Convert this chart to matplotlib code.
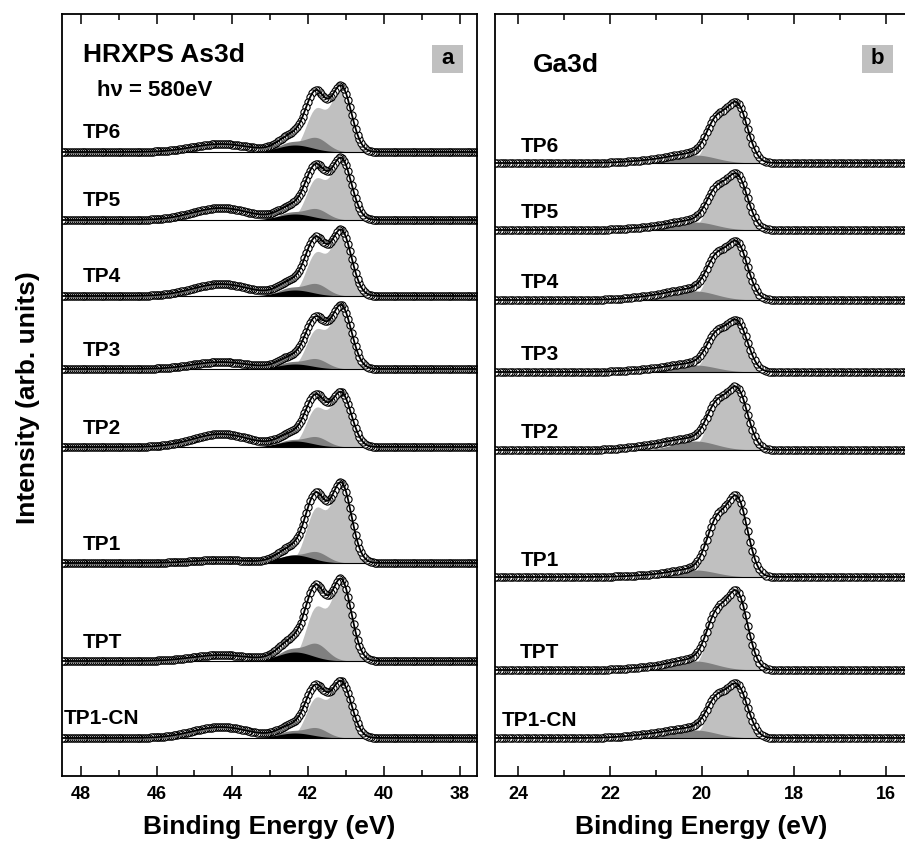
import numpy as np
import matplotlib
matplotlib.use("Agg")
import matplotlib.pyplot as plt
from matplotlib.ticker import MultipleLocator
from matplotlib.patches import Rectangle

plt.rcParams["font.family"] = ["Liberation Sans", "DejaVu Sans"]
plt.rcParams["font.weight"] = "bold"

labels = ["TP6", "TP5", "TP4", "TP3", "TP2", "TP1", "TPT", "TP1-CN"]

# As3d (panel a): fitted peak parameters (heights in px-like arb. units)
as_energy = np.arange(37.5, 48.55, 0.05)
as_main_pos = [41.12, 41.80]
as_main_52 = [64, 60, 64, 62, 53, 78, 79, 55]
as_main_32 = [42, 40, 42, 38, 38, 53, 52, 39]
as_mid_pos = [41.80, 42.49]
as_mid_h = [14, 11, 12, 10, 10, 11, 17, 10]
as_low_pos = 42.35
as_low_h = [7, 6, 6, 5, 6, 8, 9, 5]
as_oxide_pos = 44.3
as_oxide_h = [8, 12, 12, 7, 13, 3, 6, 11]

# Ga3d (panel b)
ga_energy = np.arange(15.4, 24.55, 0.05)
ga_main_pos = [19.22, 19.68]
ga_main_52 = [55, 51, 53, 47, 57, 74, 72, 49]
ga_main_32 = [37, 34, 36, 32, 38, 49, 48, 33]
ga_mid_pos = 20.15
ga_mid_h = [8, 8, 9, 7, 9, 7, 9, 8]
ga_tail_pos = 20.9
ga_tail_h = [3, 3, 4, 3, 5, 2, 3, 4]

# baseline rows of each stacked spectrum (pixels from top of figure)
rows_a = [152, 220, 296, 369, 447, 563, 661, 738]
rows_b = [163, 230, 300, 372, 450, 577, 670, 738]
AX_BOTTOM = 776
AX_TOP = 14

LIGHT = "#c0c0c0"
DARK = "#808080"


def gauss(x, pos, h, sig):
    return h * np.exp(-0.5 * ((x - pos) / sig) ** 2)


def draw_spectrum(ax, e, base, main, mid, low, extra):
    ax.fill_between(e, base, base + main, color=LIGHT, lw=0)
    ax.fill_between(e, base, base + mid, color=DARK, lw=0)
    if low is not None:
        ax.fill_between(e, base, base + low, color="black", lw=0)
    env = base + main + mid + extra + (low if low is not None else 0)
    ax.plot(e, np.full_like(e, base), color="black", lw=0.8)
    ax.plot(e, env, "o", mfc="white", mec="black", ms=5.2, mew=0.8)
    ax.plot(e, env, color="black", lw=1.3)


def style_axis(ax, xlim):
    ax.set_xlim(*xlim)
    ax.set_ylim(0, AX_BOTTOM - AX_TOP)
    ax.xaxis.set_major_locator(MultipleLocator(2))
    ax.xaxis.set_minor_locator(MultipleLocator(1))
    ax.tick_params(axis="x", which="both", direction="in", top=True, labelsize=13, pad=7, width=1.1)
    ax.tick_params(axis="x", which="major", length=7)
    ax.tick_params(axis="x", which="minor", length=4.5)
    ax.set_yticks([])
    for s in ax.spines.values():
        s.set_linewidth(1.3)
    ax.set_xlabel("Binding Energy (eV)", fontsize=19, fontweight="bold", labelpad=9)


fig = plt.figure(figsize=(9.05, 8.43), dpi=100)
H = AX_BOTTOM - AX_TOP
ax_a = fig.add_axes([61.7 / 905, (843 - AX_BOTTOM) / 843, 415.3 / 905, H / 843])
ax_b = fig.add_axes([495 / 905, (843 - AX_BOTTOM) / 843, 412 / 905, H / 843])

for i, name in enumerate(labels):
    base = AX_BOTTOM - rows_a[i]
    e = as_energy
    main = gauss(e, as_main_pos[0], as_main_52[i], 0.26) + gauss(e, as_main_pos[1], as_main_32[i], 0.26)
    mid = gauss(e, as_mid_pos[0], as_mid_h[i], 0.30) + gauss(e, as_mid_pos[1], as_mid_h[i] * 0.65, 0.30)
    low = gauss(e, as_low_pos, as_low_h[i], 0.45)
    ox = gauss(e, as_oxide_pos, as_oxide_h[i], 0.75)
    draw_spectrum(ax_a, e, base, main, mid, low, ox)
    ax_a.text(0.097, base + 19, name, transform=ax_a.get_yaxis_transform(),
              ha="center", va="center", fontsize=15, fontweight="bold")

for i, name in enumerate(labels):
    base = AX_BOTTOM - rows_b[i]
    e = ga_energy
    main = gauss(e, ga_main_pos[0], ga_main_52[i], 0.22) + gauss(e, ga_main_pos[1], ga_main_32[i], 0.22)
    mid = gauss(e, ga_mid_pos, ga_mid_h[i], 0.45)
    tail = gauss(e, ga_tail_pos, ga_tail_h[i], 0.6)
    draw_spectrum(ax_b, e, base, main, mid, None, tail)
    ax_b.text(0.109, base + 17, name, transform=ax_b.get_yaxis_transform(),
              ha="center", va="center", fontsize=15, fontweight="bold")

style_axis(ax_a, (48.5, 37.55))
style_axis(ax_b, (24.5, 15.54))

ax_a.text(0.051, 0.946, "HRXPS As3d", transform=ax_a.transAxes, fontsize=19,
          fontweight="bold", va="center", ha="left")
ax_a.text(0.085, 0.900, "h\u03bd = 580eV", transform=ax_a.transAxes, fontsize=16,
          fontweight="bold", va="center", ha="left")
ax_b.text(0.092, 0.933, "Ga3d", transform=ax_b.transAxes, fontsize=19,
          fontweight="bold", va="center", ha="left")

for ax, letter, x0, w in [(ax_a, "a", 0.8917, 0.0746), (ax_b, "b", 0.8908, 0.0752)]:
    ax.add_patch(Rectangle((x0, 0.9226), w, 0.0367, transform=ax.transAxes,
                           facecolor=LIGHT, edgecolor="none", zorder=5))
    ax.text(x0 + w / 2, 0.9226 + 0.0367 / 2, letter, transform=ax.transAxes,
            ha="center", va="center", fontsize=16, fontweight="bold", zorder=6)

fig.text(28 / 905, 1 - 398 / 843, "Intensity (arb. units)", rotation=90,
         ha="center", va="center", fontsize=19, fontweight="bold")

fig.savefig("out.png", dpi=100)
